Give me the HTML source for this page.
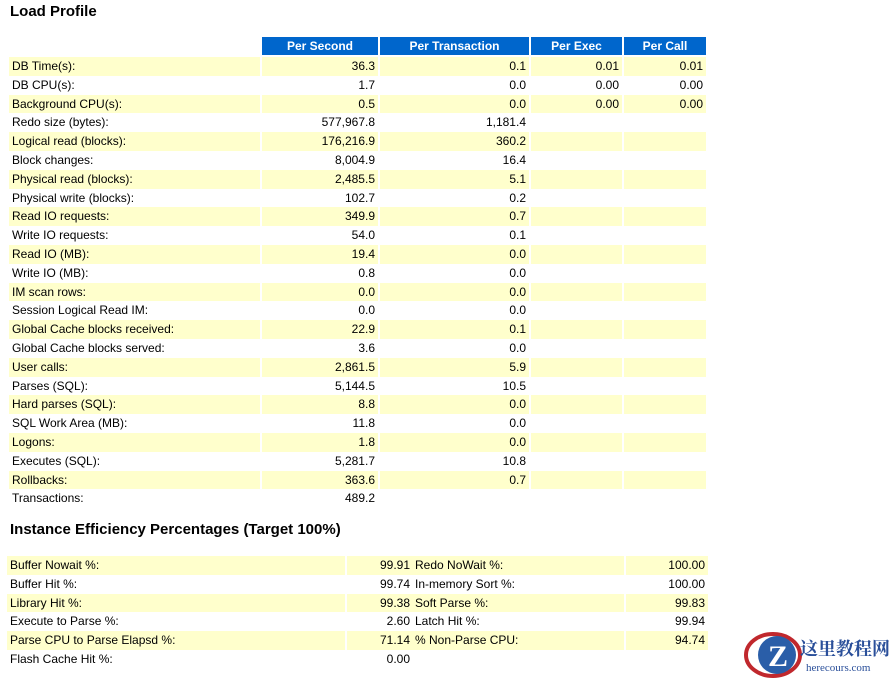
<!DOCTYPE html>
<html><head><meta charset="utf-8"><style>
body{margin:0;width:889px;height:679px;background:#fff;font-family:"Liberation Sans",Arial,sans-serif;position:relative;overflow:hidden;color:#000}
.t{position:absolute;left:10px;font-weight:bold;font-size:15px}
table{position:absolute;border-collapse:separate;border-spacing:2px 0;font-size:12px}
td,th{height:18.8px;padding:0 3px;white-space:nowrap;line-height:18.8px}
th{background:#0066cc;color:#fff;font-weight:bold;text-align:center;height:18px;line-height:18px}
td.n{text-align:right}
tr.y td{background:#ffffcc}
tr.y td.e{background:#ffffcc}
</style></head><body>
<div class="t" style="top:3px">Load Profile</div>
<table style="left:7px;top:37px">
<colgroup><col style="width:251px"><col style="width:116px"><col style="width:149px"><col style="width:91px"><col style="width:82px"></colgroup>
<tr><td style="background:#fff;height:18px"></td><th>Per Second</th><th>Per Transaction</th><th>Per Exec</th><th>Per Call</th></tr>
<tr style="height:2px"><td colspan="5" style="height:2px;padding:0;background:#fff"></td></tr>
<tr class="y"><td>DB Time(s):</td><td class="n">36.3</td><td class="n">0.1</td><td class="n">0.01</td><td class="n">0.01</td></tr>
<tr><td>DB CPU(s):</td><td class="n">1.7</td><td class="n">0.0</td><td class="n">0.00</td><td class="n">0.00</td></tr>
<tr class="y"><td>Background CPU(s):</td><td class="n">0.5</td><td class="n">0.0</td><td class="n">0.00</td><td class="n">0.00</td></tr>
<tr><td>Redo size (bytes):</td><td class="n">577,967.8</td><td class="n">1,181.4</td><td></td><td></td></tr>
<tr class="y"><td>Logical read (blocks):</td><td class="n">176,216.9</td><td class="n">360.2</td><td></td><td></td></tr>
<tr><td>Block changes:</td><td class="n">8,004.9</td><td class="n">16.4</td><td></td><td></td></tr>
<tr class="y"><td>Physical read (blocks):</td><td class="n">2,485.5</td><td class="n">5.1</td><td></td><td></td></tr>
<tr><td>Physical write (blocks):</td><td class="n">102.7</td><td class="n">0.2</td><td></td><td></td></tr>
<tr class="y"><td>Read IO requests:</td><td class="n">349.9</td><td class="n">0.7</td><td></td><td></td></tr>
<tr><td>Write IO requests:</td><td class="n">54.0</td><td class="n">0.1</td><td></td><td></td></tr>
<tr class="y"><td>Read IO (MB):</td><td class="n">19.4</td><td class="n">0.0</td><td></td><td></td></tr>
<tr><td>Write IO (MB):</td><td class="n">0.8</td><td class="n">0.0</td><td></td><td></td></tr>
<tr class="y"><td>IM scan rows:</td><td class="n">0.0</td><td class="n">0.0</td><td></td><td></td></tr>
<tr><td>Session Logical Read IM:</td><td class="n">0.0</td><td class="n">0.0</td><td></td><td></td></tr>
<tr class="y"><td>Global Cache blocks received:</td><td class="n">22.9</td><td class="n">0.1</td><td></td><td></td></tr>
<tr><td>Global Cache blocks served:</td><td class="n">3.6</td><td class="n">0.0</td><td></td><td></td></tr>
<tr class="y"><td>User calls:</td><td class="n">2,861.5</td><td class="n">5.9</td><td></td><td></td></tr>
<tr><td>Parses (SQL):</td><td class="n">5,144.5</td><td class="n">10.5</td><td></td><td></td></tr>
<tr class="y"><td>Hard parses (SQL):</td><td class="n">8.8</td><td class="n">0.0</td><td></td><td></td></tr>
<tr><td>SQL Work Area (MB):</td><td class="n">11.8</td><td class="n">0.0</td><td></td><td></td></tr>
<tr class="y"><td>Logons:</td><td class="n">1.8</td><td class="n">0.0</td><td></td><td></td></tr>
<tr><td>Executes (SQL):</td><td class="n">5,281.7</td><td class="n">10.8</td><td></td><td></td></tr>
<tr class="y"><td>Rollbacks:</td><td class="n">363.6</td><td class="n">0.7</td><td></td><td></td></tr>
<tr><td>Transactions:</td><td class="n">489.2</td><td></td><td></td><td></td></tr>
</table>
<div class="t" style="top:521px">Instance Efficiency Percentages (Target 100%)</div>
<table style="left:7px;top:556px;border-spacing:0">
<colgroup><col style="width:340px"><col style="width:66px"><col style="width:213px"><col style="width:82px"></colgroup>
<tr class="y"><td style="border-right:2px solid #fff">Buffer Nowait %:</td><td class="n">99.91</td><td style="padding-left:2px;border-right:2px solid #fff">Redo NoWait %:</td><td class="n">100.00</td></tr>
<tr><td>Buffer Hit %:</td><td class="n">99.74</td><td style="padding-left:2px">In-memory Sort %:</td><td class="n">100.00</td></tr>
<tr class="y"><td style="border-right:2px solid #fff">Library Hit %:</td><td class="n">99.38</td><td style="padding-left:2px;border-right:2px solid #fff">Soft Parse %:</td><td class="n">99.83</td></tr>
<tr><td>Execute to Parse %:</td><td class="n">2.60</td><td style="padding-left:2px">Latch Hit %:</td><td class="n">99.94</td></tr>
<tr class="y"><td style="border-right:2px solid #fff">Parse CPU to Parse Elapsd %:</td><td class="n">71.14</td><td style="padding-left:2px;border-right:2px solid #fff">% Non-Parse CPU:</td><td class="n">94.74</td></tr>
<tr><td>Flash Cache Hit %:</td><td class="n">0.00</td><td></td><td></td></tr>
</table>
<svg style="position:absolute;left:740px;top:628px" width="149" height="51">
<ellipse cx="33" cy="27" rx="27" ry="21" fill="none" stroke="#c0282d" stroke-width="4"/>
<circle cx="37" cy="27" r="19" fill="#2a5ea8"/>
<text x="28" y="38" font-family="Liberation Serif,serif" font-weight="bold" font-size="30" fill="#fff">Z</text>
<text x="60" y="27" font-family="Noto Serif CJK SC,serif" font-weight="bold" font-size="18" fill="#2a4f9a">这里教程网</text>
<text x="66" y="43" font-family="Liberation Serif,serif" font-size="11" fill="#2a4f9a">herecours.com</text>
</svg>
</body></html>
